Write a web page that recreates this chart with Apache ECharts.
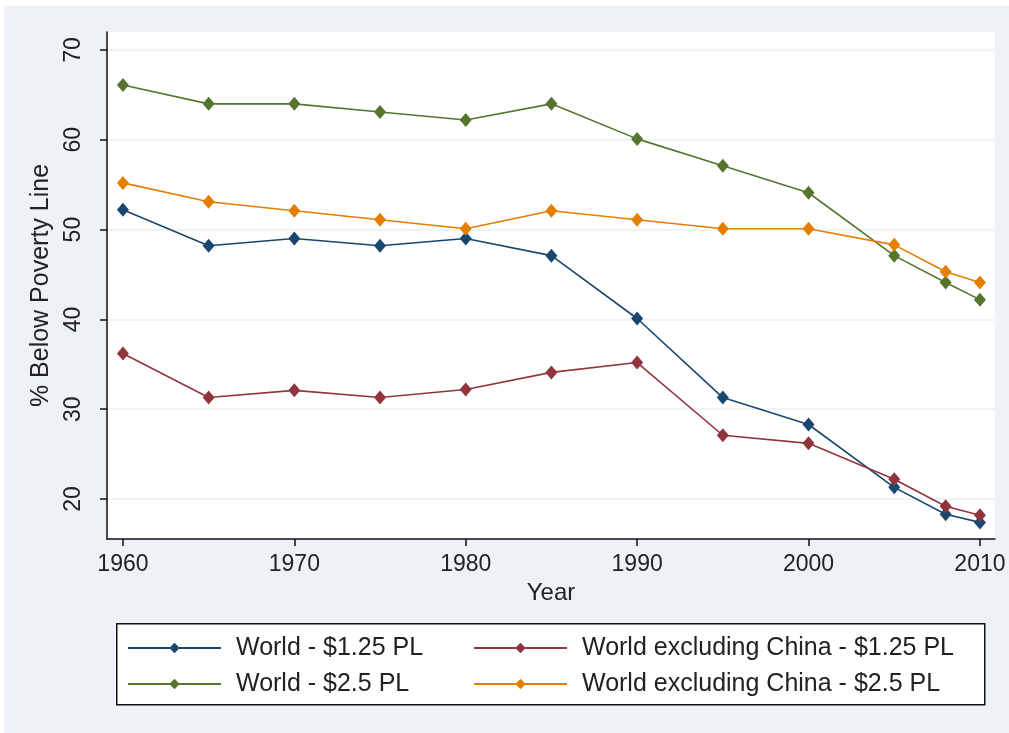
<!DOCTYPE html>
<html>
<head>
<meta charset="utf-8">
<script src="https://cdn.jsdelivr.net/npm/echarts@6/dist/echarts.min.js"></script>
<style>
html,body{margin:0;padding:0;background:#ffffff;}
#chart{width:1009px;height:733px;}
</style>
</head>
<body>
<div id="chart"></div>
<script>
const years = [1960, 1965, 1970, 1975, 1980, 1985, 1990, 1995, 2000, 2005, 2008, 2010];
const world125 = [52.2, 48.2, 49.0, 48.2, 49.0, 47.1, 40.1, 31.3, 28.3, 21.3, 18.3, 17.4];
const exChina125 = [36.2, 31.3, 32.1, 31.3, 32.2, 34.1, 35.2, 27.1, 26.2, 22.2, 19.2, 18.2];
const world25 = [66.1, 64.0, 64.0, 63.1, 62.2, 64.0, 60.1, 57.1, 54.1, 47.1, 44.1, 42.2];
const exChina25 = [55.2, 53.1, 52.1, 51.1, 50.1, 52.1, 51.1, 50.1, 50.1, 48.3, 45.3, 44.1];
const xTicks = [1960, 1970, 1980, 1990, 2000, 2010];
const yTicks = [20, 30, 40, 50, 60, 70];
const seriesNames = ['World - $1.25 PL', 'World excluding China - $1.25 PL', 'World - $2.5 PL', 'World excluding China - $2.5 PL'];
const seriesColors = ['#1a476f', '#90353b', '#55752f', '#e37e00'];

const font = 'Liberation Sans, Arial, sans-serif';
const textColor = '#222222';

function pairs(vals) { return years.map((y, i) => [y, vals[i]]); }

const allVals = [world125, exChina125, world25, exChina25];

const chart = echarts.init(document.getElementById('chart'));
chart.setOption({
  backgroundColor: '#eef1f6',
  animation: false,
  textStyle: { fontFamily: font },
  graphic: [
    { type: 'rect', left: 0, top: 0, shape: { width: 1009, height: 6 }, style: { fill: '#ffffff' }, silent: true },
    { type: 'rect', left: 0, top: 0, shape: { width: 4, height: 733 }, style: { fill: '#ffffff' }, silent: true },
    { type: 'rect', left: 116, top: 623, shape: { width: 868, height: 81 }, style: { fill: '#ffffff', stroke: '#111111', lineWidth: 1.5 }, silent: true, z: -1 }
  ],
  grid: {
    left: 107, right: 14, top: 32, bottom: 194,
    show: true, backgroundColor: '#ffffff', borderWidth: 0
  },
  xAxis: {
    type: 'value',
    min: 1959.07, max: 2010.88,
    name: 'Year',
    nameLocation: 'middle',
    nameGap: 41,
    nameTextStyle: { fontSize: 24, color: textColor, fontFamily: font },
    axisLine: { show: true, lineStyle: { color: '#111111', width: 1.5 } },
    axisTick: { show: true, length: 7, customValues: xTicks, lineStyle: { color: '#111111', width: 1.5 } },
    axisLabel: { customValues: xTicks, fontSize: 23, color: textColor, margin: 14, fontFamily: font, formatter: v => String(v) },
    splitLine: { show: false }
  },
  yAxis: {
    type: 'value',
    min: 15.55, max: 72.0,
    name: '% Below Poverty Line',
    nameLocation: 'middle',
    nameGap: 43,
    nameRotate: 90,
    nameTextStyle: { fontSize: 25, color: textColor, fontFamily: font },
    axisLine: { show: true, lineStyle: { color: '#111111', width: 1.5 } },
    axisTick: { show: true, length: 7, customValues: yTicks, lineStyle: { color: '#111111', width: 1.5 } },
    axisLabel: { customValues: yTicks, rotate: 90, fontSize: 23, color: textColor, margin: 22, fontFamily: font, formatter: v => String(v) },
    splitLine: { show: true, lineStyle: { color: '#eaf0f4', width: 1.5 } }
  },
  legend: [
    {
      data: [seriesNames[0], seriesNames[2]],
      orient: 'vertical',
      left: 122, top: 629, padding: 5,
      itemWidth: 93, itemHeight: 13, itemGap: 8,
      textStyle: { fontSize: 25, lineHeight: 28, color: textColor, fontFamily: font, padding: [0, 0, 0, 10] }
    },
    {
      data: [seriesNames[1], seriesNames[3]],
      orient: 'vertical',
      left: 468, top: 629, padding: 5,
      itemWidth: 93, itemHeight: 13, itemGap: 8,
      textStyle: { fontSize: 25, lineHeight: 28, color: textColor, fontFamily: font, padding: [0, 0, 0, 10] }
    }
  ],
  series: seriesNames.map((n, i) => ({
    name: n,
    type: 'line',
    data: pairs(allVals[i]),
    symbol: 'diamond',
    symbolSize: [12, 14],
    lineStyle: { color: seriesColors[i], width: 1.6 },
    itemStyle: { color: seriesColors[i] },
    emphasis: { disabled: true }
  }))
});
</script>
</body>
</html>
